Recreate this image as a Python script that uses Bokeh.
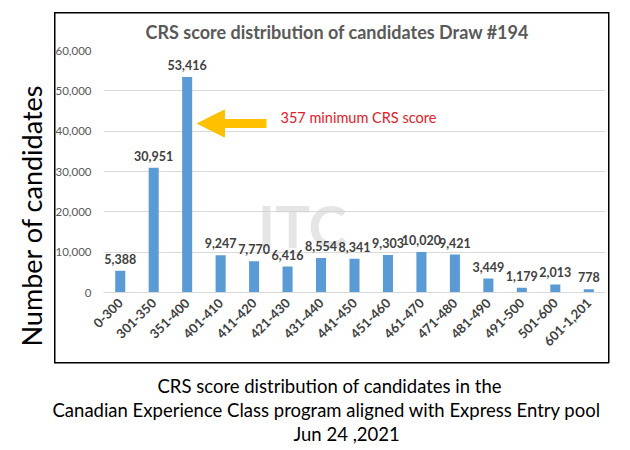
import math
from bokeh.plotting import figure
from bokeh.models import (ColumnDataSource, LabelSet, Label, Range1d, FactorRange, Title,
                          NumeralTickFormatter, FixedTicker, Arrow, NormalHead)
from bokeh.core.properties import value
from bokeh.embed import file_html
from bokeh.resources import INLINE

# ---------------- data ----------------
categories = ["0-300", "301-350", "351-400", "401-410", "411-420", "421-430", "431-440",
              "441-450", "451-460", "461-470", "471-480", "481-490", "491-500", "501-600",
              "601-1,201"]
counts = [5388, 30951, 53416, 9247, 7770, 6416, 8554, 8341, 9303, 10020, 9421, 3449,
          1179, 2013, 778]
y_ticks = [0, 10000, 20000, 30000, 40000, 50000, 60000]
title_text = "CRS score distribution of candidates  Draw #194"
y_title = "Number of candidates"
caption_lines = ["CRS score distribution of candidates in the",
                 "Canadian Experience Class program aligned with Express Entry pool",
                 "Jun 24 ,2021"]
note_text = "357 minimum CRS score"
watermark = "ITC"

count_labels = [f"{v:,}" for v in counts]
src = ColumnDataSource(dict(cat=categories, count=counts, label=count_labels))

# ---------------- figure ----------------
FL, FR, FT, FB = 103, 605, 50, 292  # frame edges in canvas pixels
W, H = 630, 450
N = len(categories)
FONT = "Lato"


def sx(px):
    """canvas pixel x -> synthetic categorical coordinate"""
    return (px - FL) / (FR - FL) * N


# outer black box drawn by the page behind the (transparent) canvas
box_css = {
    "background-image": ", ".join(["linear-gradient(#000, #000)"] * 4),
    "background-position": "54px 12px, 54px 362px, 54px 12px, 608px 12px",
    "background-size": "555px 1.5px, 555px 1.5px, 1.5px 351px, 1.5px 351px",
    "background-repeat": "no-repeat",
    "background-color": "white",
}

p = figure(width=W, height=H, x_range=FactorRange(*categories), y_range=Range1d(0, 60000),
           output_backend="svg", toolbar_location=None, title=None,
           min_border_left=FL, min_border_right=W - FR, min_border_top=FT,
           min_border_bottom=H - FB, styles=box_css)
p.extra_y_ranges = {"px": Range1d(FB, FT)}
p.background_fill_color = None
p.border_fill_color = None
p.outline_line_color = None

# watermark
p.add_layout(Label(x=sx(302), y=225, y_range_name="px", text=watermark,
                   text_font=FONT, text_font_style="bold", text_font_size="58px",
                   text_color="#d0d0d0", text_alpha=0.55, text_align="center",
                   text_baseline="middle", level="underlay"))

p.vbar(x="cat", top="count", width=0.3, source=src, fill_color="#5B9BD5", line_color=None)

p.add_layout(LabelSet(x="cat", y="count", text="label", source=src, text_align="center",
                      text_baseline="bottom", y_offset=7, text_font=value(FONT),
                      text_font_style="bold", text_font_size="12.5px", text_color="#404040"))

# axes
p.xgrid.grid_line_color = None
p.ygrid.grid_line_color = "#d9d9d9"
p.ygrid.ticker = FixedTicker(ticks=y_ticks)
p.yaxis.ticker = FixedTicker(ticks=y_ticks)
p.yaxis.formatter = NumeralTickFormatter(format="0,0")
p.yaxis.axis_line_color = None
p.yaxis.major_tick_line_color = None
p.yaxis.minor_tick_line_color = None
p.yaxis.major_tick_out = 0
p.yaxis.major_label_standoff = 12
p.yaxis.major_label_text_font = FONT
p.yaxis.major_label_text_font_size = "11.5px"
p.yaxis.major_label_text_color = "#595959"

p.xaxis.axis_line_color = "#d9d9d9"
p.xaxis.major_tick_line_color = None
p.xaxis.major_tick_out = 0
p.xaxis.major_label_orientation = math.pi / 4
p.xaxis.major_label_standoff = 8
p.xaxis.major_label_text_font = FONT
p.xaxis.major_label_text_font_style = "bold"
p.xaxis.major_label_text_font_size = "13px"
p.xaxis.major_label_text_color = "#404040"

# chart title (above)
p.add_layout(Title(text=title_text, align="left", offset=145 - FL, vertical_align="middle",
                   standoff=14, text_font=FONT, text_font_style="bold",
                   text_font_size="18px", text_color="#595959"), "above")

# y title (left, outside the box)
p.add_layout(Title(text=y_title, align="left", offset=292 - 346, vertical_align="middle",
                   standoff=8, text_font=FONT, text_font_style="normal",
                   text_font_size="27px", text_color="black"), "left")

# caption (below): spacer then three lines
p.add_layout(Title(text=" ", text_font_size="10px", standoff=7), "below")
for txt, left in zip(caption_lines, [157, 52, 293]):
    p.add_layout(Title(text=txt, align="left", offset=left - FL, vertical_align="middle",
                       standoff=0, text_font=FONT, text_font_style="normal",
                       text_font_size="18.5px", text_color="black"), "below")

# arrow + note
p.add_layout(Arrow(end=NormalHead(size=27, fill_color="#FFC000", line_color="#FFC000"),
                   x_start=sx(266), y_start=123, x_end=sx(197), y_end=123, line_width=9,
                   line_color="#FFC000", y_range_name="px"))
p.add_layout(Label(x=sx(280), y=117, y_range_name="px", text=note_text,
                   text_font=FONT, text_font_size="14.5px", text_color="#E3202A",
                   text_align="left", text_baseline="middle"))

open("out.html", "w").write(file_html(p, INLINE))
